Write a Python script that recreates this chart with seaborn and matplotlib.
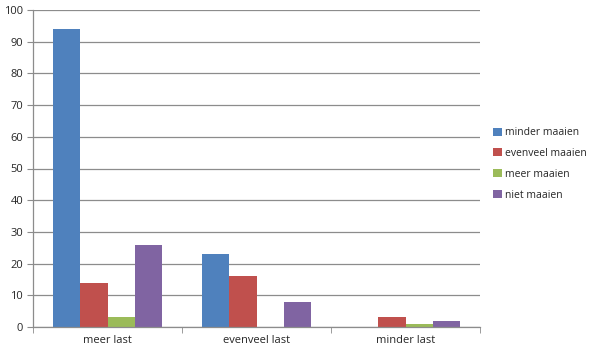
import matplotlib
matplotlib.use("Agg")
import matplotlib.pyplot as plt
import pandas as pd
import seaborn as sns

categories = ["meer last", "evenveel last", "minder last"]
series = ["minder maaien", "evenveel maaien", "meer maaien", "niet maaien"]
minder_maaien = [94, 23, 0]
evenveel_maaien = [14, 16, 3]
meer_maaien = [3, 0, 1]
niet_maaien = [26, 8, 2]

colors = ["#4F81BD", "#C0504D", "#9BBB59", "#8064A2"]

rows = []
for name, vals in zip(series, [minder_maaien, evenveel_maaien, meer_maaien, niet_maaien]):
    for cat, v in zip(categories, vals):
        rows.append({"cat": cat, "serie": name, "waarde": v})
df = pd.DataFrame(rows)

sns.set_style("white")
plt.rcParams["font.family"] = ["Open Sans", "DejaVu Sans"]

fig = plt.figure(figsize=(6, 3.54), dpi=100)
ax = fig.add_axes([33 / 600, 1 - 327 / 354, (480 - 33) / 600, (327 - 10) / 354])

sns.barplot(data=df, x="cat", y="waarde", hue="serie", order=categories,
            hue_order=series, palette=colors, width=0.73, saturation=1,
            gap=0, linewidth=0, edgecolor="none", ax=ax, legend=True)

ax.set_ylim(0, 100)
ax.set_xlim(-0.5, 2.5)
ax.set_yticks(range(0, 101, 10))
ax.yaxis.grid(True, color="#8c8c8c", linewidth=0.9)
ax.set_axisbelow(True)
ax.set_xlabel("")
ax.set_ylabel("")

for s in ["top", "right"]:
    ax.spines[s].set_visible(False)
for s in ["left", "bottom"]:
    ax.spines[s].set_color("#8c8c8c")
    ax.spines[s].set_linewidth(0.9)

ax.set_xticks([-0.5, 0.5, 1.5, 2.5], minor=True)
ax.tick_params(axis="x", which="major", length=0, labelsize=8, pad=6)
ax.tick_params(axis="x", which="minor", length=4, color="#8c8c8c", direction="out", bottom=True)
ax.tick_params(axis="y", length=4, color="#8c8c8c", direction="out", left=True, labelsize=8, pad=3)

leg = ax.legend(loc="center left", bbox_to_anchor=(484 / 600, 1 - 164 / 354),
                bbox_transform=fig.transFigure, frameon=False, fontsize=7.5,
                handlelength=0.8, handleheight=0.8, handletextpad=0.3,
                labelspacing=0.95)

fig.savefig("out.png", dpi=100)
